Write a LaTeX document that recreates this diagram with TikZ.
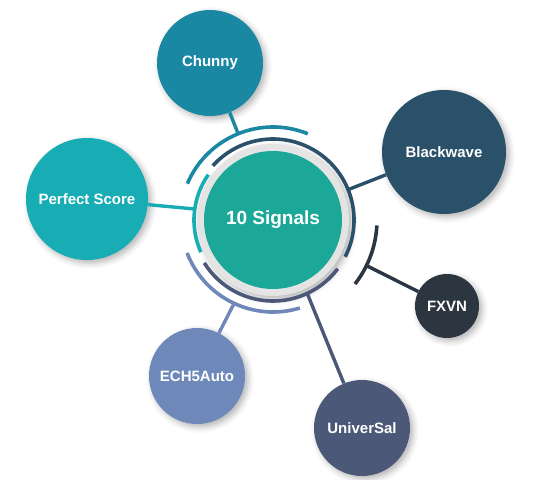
\documentclass[tikz,border=0pt]{standalone}
\usepackage{fontspec}
\setmainfont{Liberation Sans}
\usetikzlibrary{shadows.blur}
\definecolor{hubteal}{HTML}{1CA898}
\definecolor{halo}{HTML}{E4E4E4}
\definecolor{chunnyblue}{HTML}{1A87A3}
\definecolor{blackwave}{HTML}{2A5169}
\definecolor{perfectteal}{HTML}{18ADB5}
\definecolor{fxvndark}{HTML}{2C3640}
\definecolor{echblue}{HTML}{6D88B9}
\definecolor{uniblue}{HTML}{4B5878}

\tikzset{
  bubble/.style={circle, inner sep=0pt, text=white,
    font=\bfseries\fontsize{15}{17}\selectfont,
    blur shadow={shadow xshift=3pt, shadow yshift=-3pt, shadow blur radius=6pt, shadow opacity=30}},
  ring/.style={line width=3.6pt},
  link/.style={line width=3.4pt},
}

\begin{document}
\begin{tikzpicture}[x=1pt,y=1pt]
  \useasboundingbox (0,0) rectangle (551,479);

  % hub
  \node[bubble, minimum size=152pt, fill=halo] (halo) at (273,259) {};
  \node[circle, inner sep=0pt, minimum size=138pt, fill=hubteal, text=white,
    font=\bfseries\fontsize{19}{22}\selectfont] (hub) at (273,259) {10 Signals};

  % signals
  \node[bubble, minimum size=106pt, fill=chunnyblue] (chunny) at (210,416) {Chunny};
  \node[bubble, minimum size=124pt, fill=blackwave] (blackwave) at (444,327) {Blackwave};
  \node[bubble, minimum size=122pt, fill=perfectteal] (perfect) at (87,280) {Perfect Score};
  \node[bubble, minimum size=64pt, fill=fxvndark] (fxvn) at (447,173) {FXVN};
  \node[bubble, minimum size=96pt, fill=echblue] (ech) at (197,103) {ECH5Auto};
  \node[bubble, minimum size=96pt, fill=uniblue] (universal) at (362,51) {UniverSal};

  % rings round the hub
  \draw[ring, chunnyblue] ([shift={(68:93pt)}]hub.center) arc[start angle=68, end angle=157, radius=93pt];
  \draw[ring, blackwave] ([shift={(-27:81pt)}]hub.center) arc[start angle=-27, end angle=138, radius=81pt];
  \draw[ring, perfectteal] ([shift={(145:79pt)}]hub.center) arc[start angle=145, end angle=204, radius=79pt];
  \draw[ring, uniblue] ([shift={(212:81pt)}]hub.center) arc[start angle=212, end angle=323, radius=81pt];
  \draw[ring, echblue] ([shift={(201:92pt)}]hub.center) arc[start angle=201, end angle=287, radius=92pt];
  \draw[ring, fxvndark] ([shift={(-38:104pt)}]hub.center) arc[start angle=-38, end angle=-3, radius=104pt];

  % links
  \coordinate (chunnyfoot) at ([shift={(112:93pt)}]hub.center);
  \coordinate (blackwavefoot) at ([shift={(22:81pt)}]hub.center);
  \coordinate (perfectfoot) at ([shift={(172:79pt)}]hub.center);
  \coordinate (fxvnfoot) at ([shift={(-26:104pt)}]hub.center);
  \coordinate (echfoot) at ([shift={(245:92pt)}]hub.center);
  \coordinate (universalfoot) at ([shift={(295:81pt)}]hub.center);
  \draw[link, chunnyblue] (chunny) -- (chunnyfoot);
  \draw[link, blackwave] (blackwave) -- (blackwavefoot);
  \draw[link, perfectteal] (perfect) -- (perfectfoot);
  \draw[link, fxvndark] (fxvn) -- (fxvnfoot);
  \draw[link, echblue] (ech) -- (echfoot);
  \draw[link, uniblue] (universal) -- (universalfoot);
\end{tikzpicture}
\end{document}
